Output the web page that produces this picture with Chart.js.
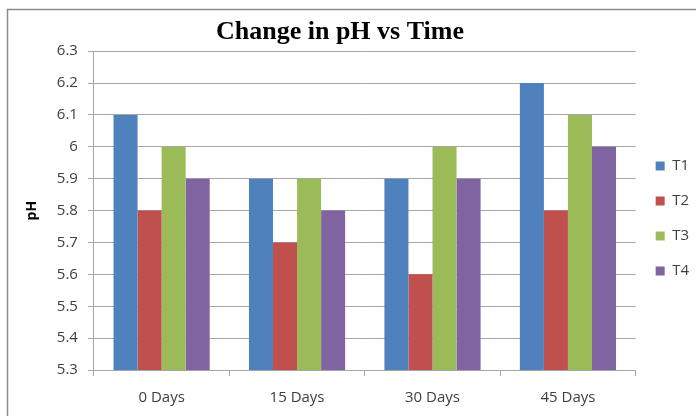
<!DOCTYPE html>
<html>
<head>
<meta charset="utf-8">
<script src="https://cdn.jsdelivr.net/npm/chart.js@4/dist/chart.umd.min.js"></script>
<style>
  body { margin: 0; background: #fff; }
  #wrap { width: 696px; height: 416px; }
</style>
</head>
<body>
<div id="wrap"><canvas id="ph" width="696" height="416"></canvas></div>
<script>
// data
const days = ["0 Days", "15 Days", "30 Days", "45 Days"];
const t1 = [6.1, 5.9, 5.9, 6.2];
const t2 = [5.8, 5.7, 5.6, 5.8];
const t3 = [6.0, 5.9, 6.0, 6.1];
const t4 = [5.9, 5.8, 5.9, 6.0];
const seriesNames = ["T1", "T2", "T3", "T4"];
const colors = ["#4F81BD", "#C0504D", "#9BBB59", "#8064A2"];

const txt = "#404040";
const gridCol = "#a6a6a6";

// outer chart frame, like the excel chart border
const frame = {
	id: "frame",
	beforeDraw(chart) {
		const c = chart.ctx;
		c.save();
		c.fillStyle = "#fff";
		c.fillRect(0, 0, chart.width, chart.height);
		c.strokeStyle = "#8c8c8c";
		c.lineWidth = 1.5;
		c.beginPath();
		c.moveTo(7.5, chart.height);
		c.lineTo(7.5, 9.5);
		c.lineTo(chart.width, 9.5);
		c.stroke();
		c.restore();
	},
};

new Chart(document.getElementById("ph"), {
	type: "bar",
	data: {
		labels: days,
		datasets: [t1, t2, t3, t4].map((vals, i) => ({
			label: seriesNames[i],
			data: vals,
			backgroundColor: colors[i],
			borderWidth: 0,
		})),
	},
	options: {
		responsive: false,
		animation: false,
		// uneven padding so the title sits where the excel one does
		layout: { padding: { left: -19, right: -3, top: 17, bottom: -4 } },
		datasets: { bar: { categoryPercentage: 0.71, barPercentage: 1 } },
		plugins: {
			title: {
				display: true,
				text: "Change in pH vs Time",
				color: "#000",
				font: { family: "'Liberation Serif', 'Times New Roman', serif", size: 26, weight: "bold" },
				padding: { top: 0, bottom: 3 },
			},
			legend: {
				position: "right",
				labels: {
					color: txt,
					font: { family: "'Open Sans', sans-serif", size: 15 },
					boxWidth: 9,
					boxHeight: 9,
					padding: 20,
				},
			},
			tooltip: { enabled: false },
		},
		scales: {
			x: {
				grid: { drawOnChartArea: false, color: gridCol, tickLength: 6 },
				border: { color: gridCol },
				ticks: { color: txt, font: { family: "'Open Sans', sans-serif", size: 15 }, padding: 13 },
			},
			y: {
				min: 5.3,
				max: 6.3,
				beginAtZero: false,
				grid: { color: gridCol, tickLength: 6 },
				border: { color: gridCol },
				ticks: {
					stepSize: 0.1,
					color: txt,
					font: { family: "'Open Sans', sans-serif", size: 15 },
					padding: 10,
					callback: (v) => String(Number(v.toFixed(1))),
				},
				title: {
					display: true,
					text: "pH",
					color: "#000",
					font: { family: "'Open Sans', sans-serif", size: 14, weight: "bold" },
					padding: { top: 43, bottom: 6 },
				},
			},
		},
	},
	plugins: [frame],
});
</script>
</body>
</html>
